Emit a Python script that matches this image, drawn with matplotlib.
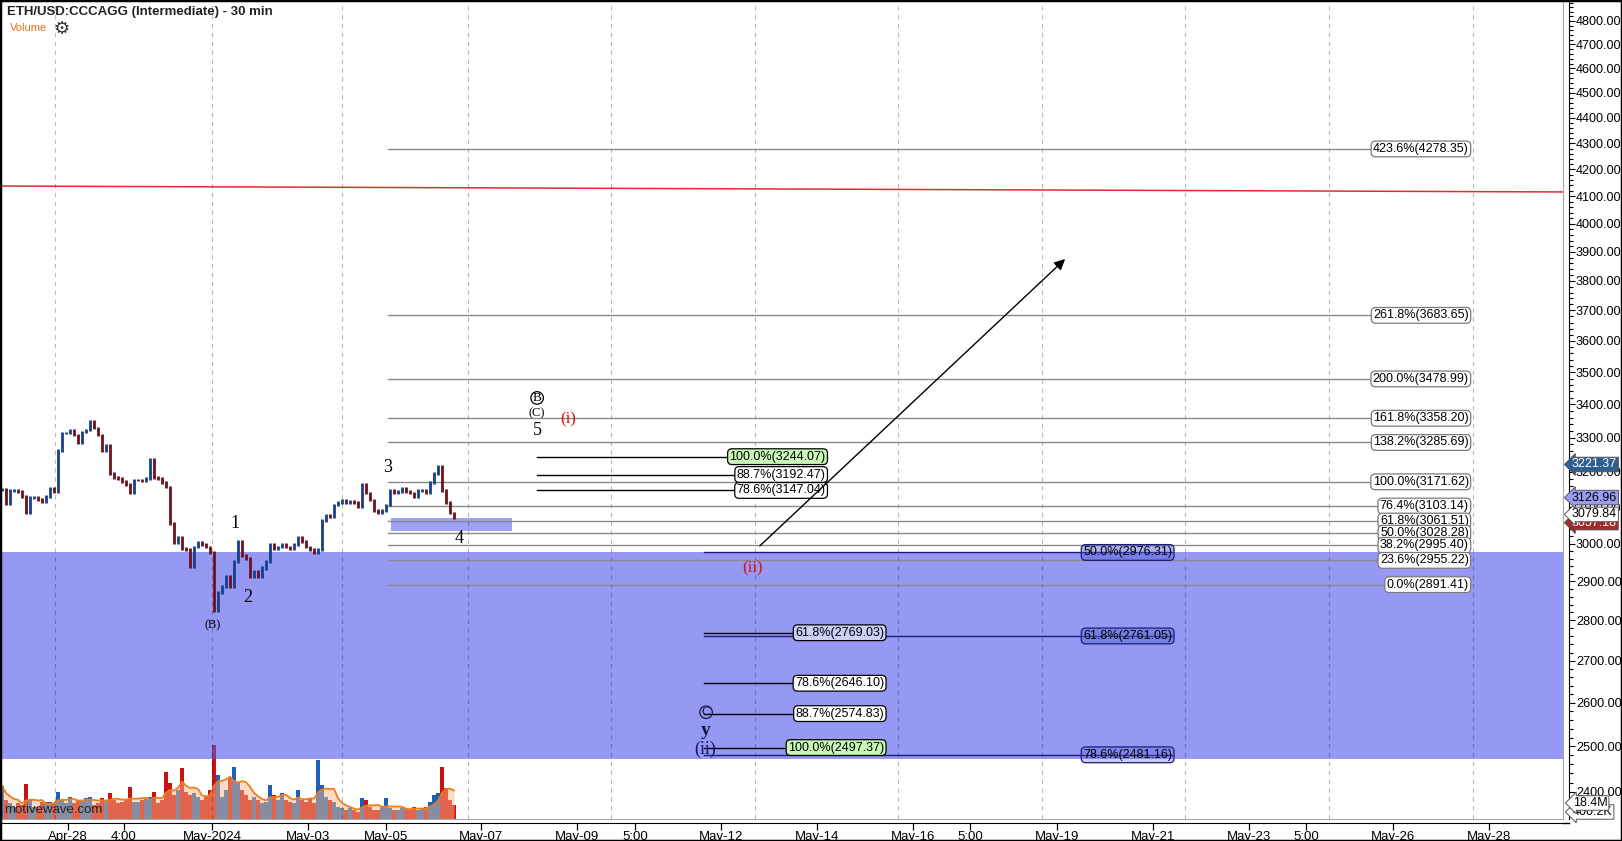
import numpy as np
import pandas as pd
import matplotlib
matplotlib.use("Agg")
import matplotlib.pyplot as plt
import matplotlib.transforms as mtransforms
from matplotlib.ticker import FixedLocator, FormatStrFormatter, NullFormatter
from matplotlib.patches import Rectangle
from matplotlib.lines import Line2D

plt.rcParams['font.family'] = ['Liberation Sans', 'DejaVu Sans']

W, H = 1622, 841

# x axis is in "chart days" (history has small data gaps, so labels are placed where the chart puts them)
tick_days = [1.417, 2.583, 4.417, 6.417, 8.042, 10.02, 12.02, 13.23, 15.02, 17.02,
             19.02, 20.21, 22.02, 24.02, 26.02, 27.21, 29.02, 31.02]
tick_labels = ['Apr-28', '4:00', 'May-2024', 'May-03', 'May-05', 'May-07', 'May-09', '5:00',
               'May-12', 'May-14', 'May-16', '5:00', 'May-19', 'May-21', 'May-23', '5:00',
               'May-26', 'May-28']
grid_days = [1.146, 4.417, 7.125, 9.75, 12.73, 15.73, 18.71, 21.71, 24.69, 27.69, 30.69]

# 2-hour closes, ETH/USD
close = np.array([
    3150, 3110, 3148, 3148, 3143, 3129, 3084, 3126, 3126, 3122,
    3115, 3129, 3154, 3145, 3263, 3314, 3314, 3323, 3308, 3284,
    3317, 3323, 3350, 3329, 3308, 3263, 3278, 3196, 3185, 3182,
    3172, 3163, 3140, 3177, 3177, 3175, 3182, 3235, 3185, 3182,
    3169, 3157, 3056, 3002, 3018, 2988, 2983, 2939, 2991, 3002,
    2997, 2991, 2975, 2825, 2870, 2886, 2912, 2886, 2951, 3005,
    2967, 2959, 2912, 2925, 2912, 2935, 2951, 2997, 2988, 2991,
    2997, 2991, 2988, 2997, 3018, 3005, 2991, 2983, 2975, 2983,
    3064, 3078, 3073, 3106, 3112, 3120, 3112, 3115, 3112, 3101,
    3165, 3140, 3120, 3092, 3084, 3092, 3106, 3148, 3140, 3143,
    3154, 3143, 3140, 3131, 3148, 3148, 3140, 3169, 3196, 3215,
    3148, 3112, 3084, 3070])

# volume in millions
volume = np.array([
    38.0, 21.9, 18.4, 13.8, 18.4, 16.1, 40.3, 21.9, 13.8, 13.8,
    19.6, 19.6, 19.6, 18.4, 31.1, 21.9, 18.4, 25.3, 18.4, 21.9,
    21.9, 24.2, 25.3, 16.1, 18.4, 24.2, 21.9, 29.9, 21.9, 18.4,
    19.6, 21.9, 36.8, 19.6, 19.6, 21.9, 24.2, 25.3, 31.1, 18.4,
    21.9, 54.1, 41.4, 27.6, 33.4, 58.7, 31.1, 27.6, 29.9, 25.3,
    21.9, 25.3, 33.4, 85.1, 50.6, 25.3, 33.4, 48.3, 59.8, 42.6,
    33.4, 27.6, 21.9, 25.3, 21.9, 18.4, 19.6, 39.1, 27.6, 21.9,
    29.9, 21.9, 19.6, 18.4, 33.4, 21.9, 19.6, 24.2, 18.4, 67.9,
    39.1, 25.3, 21.9, 19.6, 13.8, 12.7, 10.4, 12.7, 10.4, 8.1,
    24.2, 21.9, 13.8, 10.4, 10.4, 13.8, 24.2, 12.7, 10.4, 10.4,
    12.7, 12.7, 10.4, 13.8, 10.4, 12.7, 13.8, 19.6, 27.6, 29.9,
    59.8, 35.7, 21.9, 16.1])

# fib projections on the right
fib1_pct = ['423.6%', '261.8%', '200.0%', '161.8%', '138.2%', '100.0%', '76.4%', '61.8%',
            '50.0%', '38.2%', '23.6%', '0.0%']
fib1_price = [4278.35, 3683.65, 3478.99, 3358.20, 3285.69, 3171.62, 3103.14, 3061.51,
              3028.28, 2995.40, 2955.22, 2891.41]
# upper retrace set
fib2_pct = ['100.0%', '88.7%', '78.6%']
fib2_price = [3244.07, 3192.47, 3147.04]
# lower support set
fib3_pct = ['61.8%', '78.6%', '88.7%', '100.0%']
fib3_price = [2769.03, 2646.10, 2574.83, 2497.37]
# wave (ii) retrace set
fib4_pct = ['50.0%', '61.8%', '78.6%']
fib4_price = [2976.31, 2761.05, 2481.16]

support_zone = [2472.0, 2976.31]
wave4_box = [3035.0, 3070.0]
red_line = [4138.0, 4116.0]

price_tags = [3057.18, 3079.84, 3126.96, 3221.37]

UP, DN = '#163f8f', '#6e0f1c'
VUP, VDN = '#1a5fb8', '#cc1111'

fig = plt.figure(figsize=(W / 100, H / 100), dpi=100)
fig.patch.set_facecolor('white')

x_max = 1563 / 48
bottom = (H - 819) / H
height = 819 / H
width = 1563 / W

# volume panel sits under the price panel
vax = fig.add_axes([0, bottom, width, 100 / H])
vax.set_xlim(0, x_max)
vax.set_ylim(0, 115)
vax.axis('off')

ax = fig.add_axes([0, bottom, width, height])
ax.set_facecolor('none')
ax.set_yscale('log')
ax.set_xlim(0, x_max)
ax.set_ylim(2342, 4891.5)
for s in ax.spines.values():
    s.set_color('#a8a8a8')
ax.tick_params(which='both', left=False, right=False, bottom=False,
               labelleft=False, labelbottom=False)

bar_x = 2 / 48 + np.arange(len(close)) / 12
prev = np.r_[close[0], close[:-1]]
up = close >= prev

# volume bars + moving average
vax.bar(bar_x, volume, width=0.07, color=np.where(up, VUP, VDN), zorder=2)
ma = pd.Series(volume).rolling(5, min_periods=1).mean()
vax.fill_between(bar_x, 0, ma, color='#f7b98a', alpha=0.5, lw=0, zorder=3)
vax.plot(bar_x, ma, color='#ef7d1c', lw=1.3, zorder=4)

# zones
ax.axhspan(support_zone[0], support_zone[1], color='#5055eb', alpha=0.6, lw=0, zorder=0.5)
ax.fill_between([8.15, 10.67], wave4_box[0], wave4_box[1], color='#5055eb', alpha=0.55,
                lw=0, zorder=0.5)

for gx in grid_days:
    ax.axvline(gx, color='black', alpha=0.27, lw=0.8, ls=(0, (4, 4)), zorder=1)

ax.plot([0, x_max], red_line, color='#e32b2b', lw=1.1, zorder=2)

# price bars
ax.vlines(bar_x, np.minimum(prev, close) - 4, np.maximum(prev, close) + 4,
          colors=np.where(up, UP, DN), lw=2.0, zorder=3)


def fib_set(pcts, prices, x0, x1, lc, ec, fcs, lw=1.0):
    for pct, p, fc in zip(pcts, prices, fcs):
        ax.plot([x0, x1], [p, p], color=lc, lw=lw, zorder=2)
        ax.text(x1, p, f'{pct}({p:.2f})', ha='right', va='center', fontsize=9, zorder=5,
                bbox=dict(boxstyle='round,pad=0.15,rounding_size=0.35', fc=fc, ec=ec, lw=0.9))


fib_set(fib1_pct, fib1_price, 8.08, 30.6, '#8a8a8a', '#7a7a7a', ['white'] * 12)
fib_set(fib2_pct, fib2_price, 11.19, 17.2, 'black', 'black', ['#c8f7b8', 'white', 'white'])
fib_set(fib4_pct, fib4_price, 14.67, 24.42, '#1b1b7a', '#1b1b7a',
        [(0.3, 0.36, 0.85, 0.45), (0.3, 0.4, 0.8, 0.45), (0.3, 0.36, 0.85, 0.3)])
fib_set(fib3_pct, fib3_price, 14.67, 18.42, 'black', 'black',
        ['#cad0f8', 'white', 'white', '#c8f7b8'])

# wave labels
serif = 'Liberation Serif'
ax.text(4.90, 3056, '1', fontsize=13, family=serif, ha='center', va='center', zorder=6)
ax.text(5.17, 2857, '2', fontsize=13, family=serif, ha='center', va='center', zorder=6)
ax.text(4.42, 2788, '(B)', fontsize=9, family=serif, ha='center', va='center', zorder=6)
ax.text(8.08, 3214, '3', fontsize=13, family=serif, ha='center', va='center', zorder=6)
ax.text(9.56, 3013, '4', fontsize=13, family=serif, ha='center', va='center', zorder=6)
ax.text(11.19, 3420, 'B', fontsize=9.5, family=serif, ha='center', va='center', zorder=6,
        bbox=dict(boxstyle='circle,pad=0.02', fc='none', ec='black', lw=0.9))
ax.text(11.19, 3374, '(C)', fontsize=9, family=serif, ha='center', va='center', zorder=6)
ax.text(11.19, 3320, '5', fontsize=13, family=serif, ha='center', va='center', zorder=6)
ax.text(11.83, 3356, '(i)', fontsize=12, family=serif, color='#e01010', ha='center',
        va='center', zorder=6)
ax.text(15.67, 2935, '(ii)', fontsize=12, family=serif, color='#e01010', ha='center',
        va='center', zorder=6)
ax.text(14.71, 2578, 'C', fontsize=9.5, family=serif, color='#141440', ha='center',
        va='center', zorder=6,
        bbox=dict(boxstyle='circle,pad=0.02', fc='none', ec='#141440', lw=0.9))
ax.text(14.71, 2537, 'y', fontsize=14, family=serif, weight='bold', color='#141440',
        ha='center', va='center', zorder=6)
ax.text(14.69, 2494, '(ii)', fontsize=13, family=serif, color='#141470', ha='center',
        va='center', zorder=6)

ax.annotate('', xy=(22.19, 3875), xytext=(15.83, 2994), zorder=6,
            arrowprops=dict(arrowstyle='-|>', color='black', lw=1.0, mutation_scale=16,
                            shrinkA=0, shrinkB=0))

# price axis on the right
ax2 = fig.add_axes([1568 / W, bottom, 1 / W, height], sharey=ax)
ax2.set_facecolor('none')
for side in ['left', 'top', 'bottom']:
    ax2.spines[side].set_visible(False)
ax2.spines['right'].set_color('black')
ax2.set_xticks([])
ax2.yaxis.tick_right()
ax2.yaxis.set_major_locator(FixedLocator(np.arange(2400, 4900, 100)))
ax2.yaxis.set_minor_locator(FixedLocator([v for v in range(2340, 4900, 20) if v % 100]))
ax2.yaxis.set_major_formatter(FormatStrFormatter('%.2f'))
ax2.yaxis.set_minor_formatter(NullFormatter())
ax2.tick_params(axis='y', which='major', length=4, width=0.8, direction='out', labelsize=9.1,
                pad=1)
ax2.tick_params(axis='y', which='minor', length=3, width=0.8, direction='out')
ax.tick_params(which='both', left=False, right=False, labelleft=False, labelright=False)

# date axis
ax3 = fig.add_axes([0, (H - 823) / H, width, 0.0001], sharex=ax)
ax3.set_facecolor('none')
for side in ['left', 'top', 'right']:
    ax3.spines[side].set_visible(False)
ax3.spines['bottom'].set_color('black')
ax3.set_yticks([])
ax3.set_xticks(tick_days)
ax3.set_xticklabels(tick_labels)
ax3.tick_params(axis='x', length=5, width=0.9, direction='out', labelsize=9.5, pad=1)
fig.add_artist(Line2D([1563 / W, 1569 / W], [(H - 823) / H] * 2, color='black', lw=1))

# last-value tags on the price axis
tag_tr = mtransforms.blended_transform_factory(fig.transFigure, ax2.transData)
tag_style = [('#a32a2a', 'white'), ('white', 'black'), ('#9a9cf4', 'black'), ('#2f5f8f', 'white')]
for p, (fc, tc) in zip(price_tags, tag_style):
    ax2.text(1572 / W, p, f'{p:.2f}', transform=tag_tr, ha='left', va='center', fontsize=9,
             color=tc, zorder=10,
             bbox=dict(boxstyle='larrow,pad=0.1', fc=fc, ec='#555555', lw=0.7))

fig.text(1573 / W, 1 - 812 / H, '400.2K', ha='left', va='center', fontsize=9,
         bbox=dict(boxstyle='larrow,pad=0.1', fc='white', ec='#555555', lw=0.7))
fig.text(1573 / W, 1 - 803 / H, '18.4M', ha='left', va='center', fontsize=9,
         bbox=dict(boxstyle='larrow,pad=0.1', fc='white', ec='#555555', lw=0.7))

# header and watermark
fig.text(7 / W, 1 - 12 / H, 'ETH/USD:CCCAGG (Intermediate) - 30 min', ha='left', va='center',
         fontsize=9.5, weight='bold', color='#222222')
fig.text(10 / W, 1 - 28 / H, 'Volume', ha='left', va='center', fontsize=8, color='#e8701c')
fig.text(53 / W, 1 - 28.5 / H, '\u2699', ha='left', va='center', fontsize=13, color='#333333',
         family='DejaVu Sans', weight='bold')
fig.text(4 / W, 1 - 810 / H, 'motivewave.com', ha='left', va='center', fontsize=9.5,
         color='#222222', zorder=20)

fig.add_artist(Rectangle((0, 0), 1, 1, transform=fig.transFigure, fill=False, ec='black', lw=2.5))

fig.savefig('out.png', dpi=100)
